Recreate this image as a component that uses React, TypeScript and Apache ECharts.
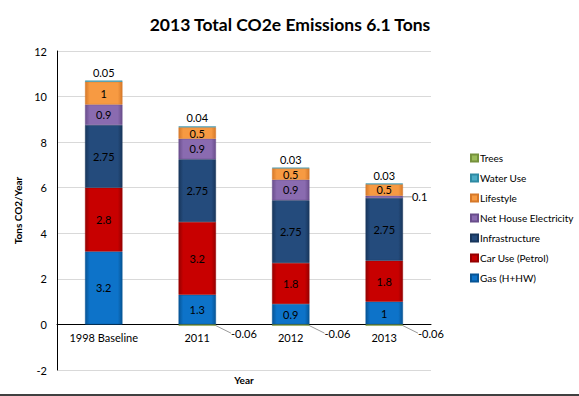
import React, { useEffect, useRef } from "react";
import * as echarts from "echarts";

const categories = ["1998 Baseline", "2011", "2012", "2013"];
const gas = [3.2, 1.3, 0.9, 1];
const carUse = [2.8, 3.2, 1.8, 1.8];
const infrastructure = [2.75, 2.75, 2.75, 2.75];
const netHouseElectricity = [0.9, 0.9, 0.9, 0.1];
const lifestyle = [1, 0.5, 0.5, 0.5];
const waterUse = [0.05, 0.04, 0.03, 0.03];
const trees = [null, -0.06, -0.06, -0.06];
const yTicks = { min: -2, max: 12, interval: 2 };

const FONT = "Lato, 'Open Sans', sans-serif";

function grad(base: string, dark: string) {
  return new echarts.graphic.LinearGradient(0, 0, 1, 0, [
    { offset: 0, color: dark },
    { offset: 0.12, color: base },
    { offset: 0.88, color: base },
    { offset: 1, color: dark },
  ]);
}

export default function App() {
  const ref = useRef<HTMLDivElement>(null);
  useEffect(() => {
    if (!ref.current) return;
    const chart = echarts.init(ref.current, undefined, { renderer: "svg" });
    const labelBase = {
      show: true,
      position: "inside" as const,
      color: "#000",
      fontSize: 11,
      fontFamily: FONT,
    };
    const mk = (
      name: string,
      data: any[],
      base: string,
      dark: string,
      extra: any = {}
    ) => ({
      name,
      type: "bar",
      stack: "total",
      barWidth: "40%",
      data,
      itemStyle: { color: grad(base, dark), borderColor: dark, borderWidth: 0.5 },
      label: { ...labelBase },
      ...extra,
    });
    const series = [
      mk("Gas (H+HW)", gas, "#0D73C9", "#075596"),
      mk("Car Use (Petrol)", carUse, "#C80000", "#960000"),
      mk("Infrastructure", infrastructure, "#244B7C", "#18365C"),
      mk(
        "Net House Electricity",
        netHouseElectricity.map((v, i) =>
          i === 3
            ? {
                value: v,
                label: { position: "right", distance: 9 },
                labelLine: { show: true, lineStyle: { color: "#999", width: 1 } },
              }
            : v
        ),
        "#8A6BB0",
        "#6A4E8C",
        {
          labelLayout: (p: any) =>
            p.dataIndex === 3 ? { dx: 0, dy: 0 } : {},
        }
      ),
      mk("Lifestyle", lifestyle, "#F79A42", "#D6792A"),
      mk("Water Use", waterUse, "#4BACC6", "#2E8AA3", {
        label: { ...labelBase, position: "top", distance: 3 },
      }),
      mk("Trees", trees, "#9BBB59", "#76923C", {
        label: { ...labelBase, position: "right", distance: 16 },
        labelLayout: { dy: 8, dx: -1 },
        labelLine: { show: true, lineStyle: { color: "#999", width: 1 } },
      }),
    ];
    chart.setOption({
      animation: false,
      backgroundColor: "#fff",
      title: {
        text: "2013 Total CO2e Emissions 6.1 Tons",
        left: 285,
        textAlign: "center",
        top: 10,
        textStyle: { fontSize: 17.5, fontWeight: "bold", color: "#000", fontFamily: FONT },
      },
      legend: {
        orient: "vertical",
        left: 465,
        top: 147,
        itemWidth: 7,
        itemHeight: 7,
        itemGap: 8,
        icon: "rect",
        data: [
          "Trees",
          "Water Use",
          "Lifestyle",
          "Net House Electricity",
          "Infrastructure",
          "Car Use (Petrol)",
          "Gas (H+HW)",
        ],
        textStyle: { fontSize: 10, color: "#000", fontFamily: FONT, lineHeight: 12, padding: [0, 0, 0, -3] },
      },
      grid: {
        left: 57,
        right: 148,
        top: 51,
        bottom: 26,
        containLabel: false,
        outerBoundsMode: "none",
      },
      xAxis: {
        type: "category",
        data: categories,
        offset: -45.6,
        axisLine: { onZero: false, lineStyle: { color: "#000", width: 1 } },
        axisTick: { show: false },
        axisLabel: { color: "#000", fontSize: 11, fontFamily: FONT, margin: 8 },
        name: "Year",
        nameLocation: "middle",
        nameGap: 51,
        nameTextStyle: { fontSize: 10, fontWeight: "bold", color: "#000", fontFamily: FONT },
      },
      yAxis: {
        type: "value",
        min: yTicks.min,
        max: yTicks.max,
        interval: yTicks.interval,
        axisLine: { show: true, lineStyle: { color: "#000", width: 1 } },
        axisTick: { show: false },
        splitLine: { lineStyle: { color: "#D9D9D9" } },
        axisLabel: { color: "#000", fontSize: 11, fontFamily: FONT, margin: 10 },
        name: "Tons CO2/Year",
        nameLocation: "middle",
        nameGap: 30,
        nameTextStyle: { fontSize: 10, fontWeight: "bold", color: "#000", fontFamily: FONT },
      },
      graphic: [
        {
          type: "line",
          shape: { x1: 0, y1: 395, x2: 579, y2: 395 },
          style: { stroke: "#000", lineWidth: 1.5 },
        },
      ],
      series,
    });
    return () => chart.dispose();
  }, []);
  return (
    <div
      ref={ref}
      style={{ position: "fixed", left: 0, top: 0, width: 579, height: 396 }}
    />
  );
}
